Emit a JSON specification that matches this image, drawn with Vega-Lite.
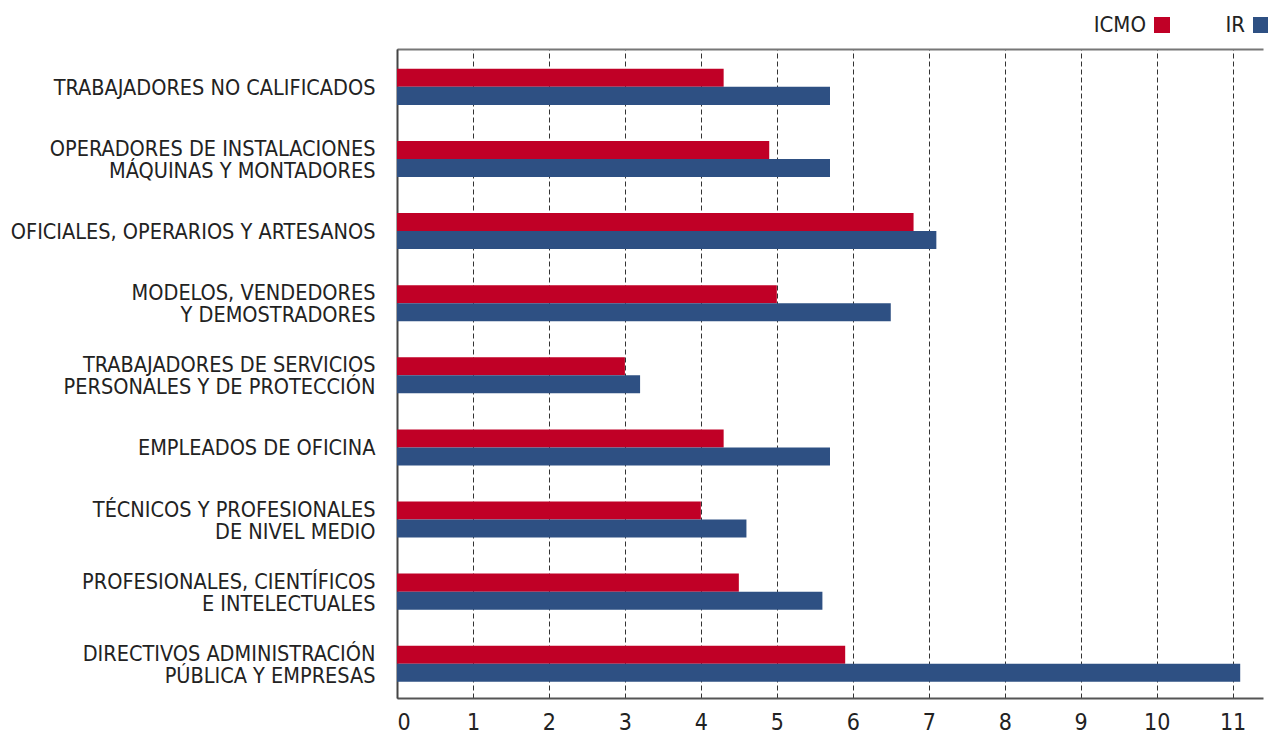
{
  "$schema": "https://vega.github.io/schema/vega-lite/v6.json",
  "width": 866,
  "height": 649,
  "autosize": "none",
  "padding": {"left": 397, "top": 49, "right": 5, "bottom": 36},
  "config": {"view": {"stroke": null}, "font": "DejaVu Sans Condensed, Liberation Sans Narrow, Liberation Sans, sans-serif"},
  "data": {
    "values": [
      {"cat": "TRABAJADORES NO CALIFICADOS", "serie": "ICMO", "valor": 4.3},
      {"cat": "TRABAJADORES NO CALIFICADOS", "serie": "IR", "valor": 5.7},
      {"cat": "OPERADORES DE INSTALACIONES|MÁQUINAS Y MONTADORES", "serie": "ICMO", "valor": 4.9},
      {"cat": "OPERADORES DE INSTALACIONES|MÁQUINAS Y MONTADORES", "serie": "IR", "valor": 5.7},
      {"cat": "OFICIALES, OPERARIOS Y ARTESANOS", "serie": "ICMO", "valor": 6.8},
      {"cat": "OFICIALES, OPERARIOS Y ARTESANOS", "serie": "IR", "valor": 7.1},
      {"cat": "MODELOS, VENDEDORES|Y DEMOSTRADORES", "serie": "ICMO", "valor": 5.0},
      {"cat": "MODELOS, VENDEDORES|Y DEMOSTRADORES", "serie": "IR", "valor": 6.5},
      {"cat": "TRABAJADORES DE SERVICIOS|PERSONALES Y DE PROTECCIÓN", "serie": "ICMO", "valor": 3.0},
      {"cat": "TRABAJADORES DE SERVICIOS|PERSONALES Y DE PROTECCIÓN", "serie": "IR", "valor": 3.2},
      {"cat": "EMPLEADOS DE OFICINA", "serie": "ICMO", "valor": 4.3},
      {"cat": "EMPLEADOS DE OFICINA", "serie": "IR", "valor": 5.7},
      {"cat": "TÉCNICOS Y PROFESIONALES|DE NIVEL MEDIO", "serie": "ICMO", "valor": 4.0},
      {"cat": "TÉCNICOS Y PROFESIONALES|DE NIVEL MEDIO", "serie": "IR", "valor": 4.6},
      {"cat": "PROFESIONALES, CIENTÍFICOS|E INTELECTUALES", "serie": "ICMO", "valor": 4.5},
      {"cat": "PROFESIONALES, CIENTÍFICOS|E INTELECTUALES", "serie": "IR", "valor": 5.6},
      {"cat": "DIRECTIVOS ADMINISTRACIÓN|PÚBLICA Y EMPRESAS", "serie": "ICMO", "valor": 5.9},
      {"cat": "DIRECTIVOS ADMINISTRACIÓN|PÚBLICA Y EMPRESAS", "serie": "IR", "valor": 11.1}
    ]
  },
  "resolve": {"axis": {"x": "independent"}},
  "layer": [
    {
      "mark": {"type": "bar"},
      "encoding": {
        "y": {
          "field": "cat", "type": "nominal", "sort": null,
          "scale": {"paddingInner": 0.5, "paddingOuter": 0.25, "align": 0.55},
          "axis": {
            "title": null, "ticks": false, "domainColor": "#444", "domainWidth": 2,
            "labelPadding": 22, "labelFontSize": 21.5, "labelColor": "#222", "labelLimit": 500,
            "labelLineHeight": 22, "labelExpr": "split(datum.label, '|')",
            "labelOffset": {"condition": {"test": "indexof(datum.value, '|') >= 0", "value": -9}, "value": 2}
          }
        },
        "yOffset": {"field": "serie", "sort": ["ICMO", "IR"], "scale": {"paddingInner": 0, "paddingOuter": 0}},
        "x": {
          "field": "valor", "type": "quantitative",
          "scale": {"domain": [0, 11.4], "nice": false},
          "axis": {
            "title": null, "values": [0, 1, 2, 3, 4, 5, 6, 7, 8, 9, 10, 11],
            "ticks": false, "grid": true, "gridDash": [5, 3], "gridColor": "#333", "gridWidth": 1,
            "domainColor": "#555", "domainWidth": 2, "labelPadding": 13, "labelFontSize": 23, "labelColor": "#222"
          }
        },
        "color": {
          "field": "serie", "type": "nominal",
          "scale": {"domain": ["ICMO", "IR"], "range": ["#C00026", "#2E5083"]},
          "legend": {
            "title": null, "orient": "none", "legendX": 754, "legendY": -35, "direction": "horizontal",
            "symbolType": "square", "symbolSize": 256, "symbolStrokeWidth": 0, "symbolOpacity": 1,
            "labelAlign": "right", "labelOffset": -27, "labelFontSize": 22, "labelColor": "#222",
            "columnPadding": 55
          }
        }
      }
    },
    {
      "mark": {"type": "rule", "opacity": 0},
      "encoding": {
        "x": {
          "datum": 0, "type": "quantitative",
          "axis": {"orient": "top", "title": null, "labels": false, "ticks": false, "grid": false, "domainColor": "#777", "domainWidth": 2}
        }
      }
    }
  ]
}
